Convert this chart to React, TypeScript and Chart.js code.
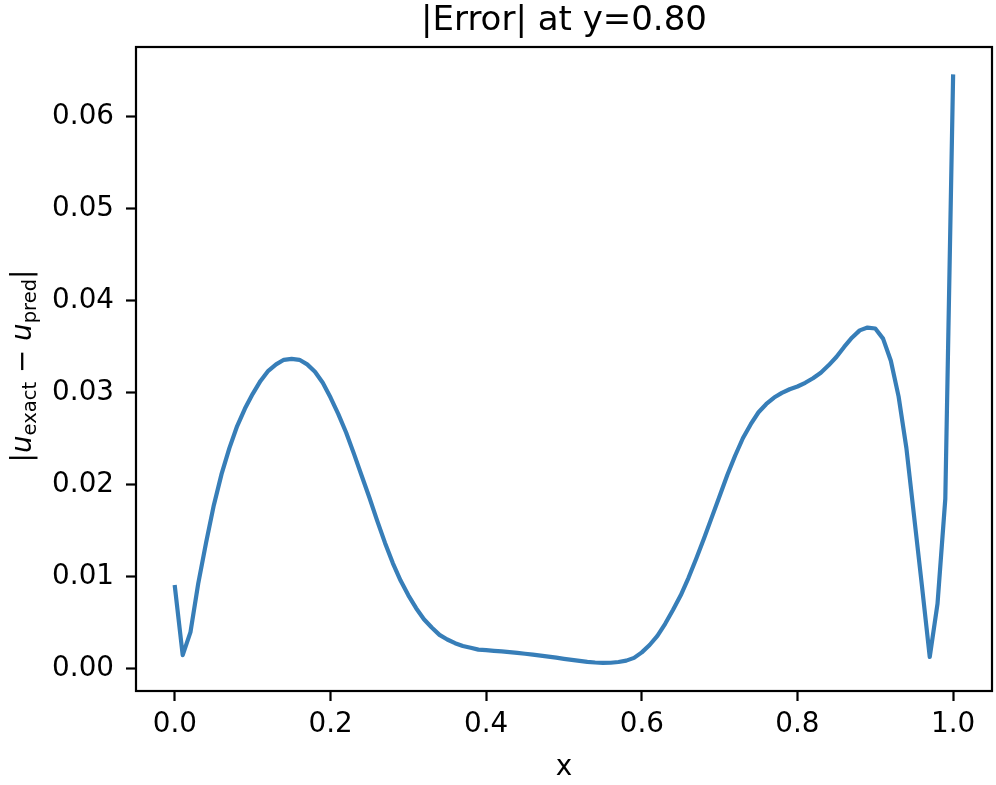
import React, { useEffect, useRef } from "react";
import { Chart, registerables } from "chart.js";

Chart.register(...registerables);

const X_VALUES = [
  0.0, 0.01, 0.02, 0.03, 0.04, 0.05, 0.06, 0.07, 0.08, 0.09,
  0.1, 0.11, 0.12, 0.13, 0.14, 0.15, 0.16, 0.17, 0.18, 0.19,
  0.2, 0.21, 0.22, 0.23, 0.24, 0.25, 0.26, 0.27, 0.28, 0.29,
  0.3, 0.31, 0.32, 0.33, 0.34, 0.35, 0.36, 0.37, 0.38, 0.39,
  0.4, 0.41, 0.42, 0.43, 0.44, 0.45, 0.46, 0.47, 0.48, 0.49,
  0.5, 0.51, 0.52, 0.53, 0.54, 0.55, 0.56, 0.57, 0.58, 0.59,
  0.6, 0.61, 0.62, 0.63, 0.64, 0.65, 0.66, 0.67, 0.68, 0.69,
  0.7, 0.71, 0.72, 0.73, 0.74, 0.75, 0.76, 0.77, 0.78, 0.79,
  0.8, 0.81, 0.82, 0.83, 0.84, 0.85, 0.86, 0.87, 0.88, 0.89,
  0.9, 0.91, 0.92, 0.93, 0.94, 0.95, 0.96, 0.97, 0.98, 0.99,
  1.0,
];

const ERROR_VALUES = [
  0.0089, 0.0015, 0.004, 0.0093, 0.0137, 0.0178, 0.0212, 0.024, 0.0264, 0.0283,
  0.0299, 0.0313, 0.0324, 0.0331, 0.0336, 0.0337, 0.0336, 0.0331, 0.0323, 0.0311,
  0.0295, 0.0277, 0.0257, 0.0234, 0.021, 0.0186, 0.0161, 0.0137, 0.0115, 0.0096,
  0.008, 0.0066, 0.0054, 0.0045, 0.0037, 0.0032, 0.0028, 0.0025, 0.0023, 0.0021,
  0.00205, 0.00197, 0.0019, 0.00182, 0.00174, 0.00165, 0.00155, 0.00145, 0.00134, 0.00122,
  0.0011, 0.00098, 0.00087, 0.00077, 0.0007, 0.00066, 0.00067, 0.00075, 0.0009, 0.0012,
  0.0018, 0.0026, 0.0036, 0.0049, 0.0064, 0.008, 0.0099, 0.012, 0.0142, 0.0165,
  0.0188, 0.0211, 0.0232, 0.0251, 0.0266, 0.0279, 0.0288, 0.0295, 0.03, 0.0304,
  0.0307, 0.0311, 0.0316, 0.0322, 0.033, 0.0339, 0.035, 0.036, 0.0368, 0.0371,
  0.037, 0.0359, 0.0335, 0.0296, 0.024, 0.0165, 0.009, 0.0013, 0.0071, 0.0185,
  0.0644,
];

const X_TICKS = [0.0, 0.2, 0.4, 0.6, 0.8, 1.0];
const Y_TICKS = [0.0, 0.01, 0.02, 0.03, 0.04, 0.05, 0.06];

const TITLE = "|Error| at y=0.80";
const X_LABEL = "x";

const FONT = "'DejaVu Sans', sans-serif";
const LINE_COLOR = "#377eb8";

const framePlugin = {
  id: "mplFrame",
  afterDraw(chart: any) {
    const { ctx, chartArea } = chart;
    const { left, right, top, bottom } = chartArea;
    ctx.save();
    // axes box
    ctx.strokeStyle = "#000";
    ctx.lineWidth = 2.2;
    ctx.strokeRect(left, top, right - left, bottom - top);

    // title
    ctx.fillStyle = "#000";
    ctx.font = `34px ${FONT}`;
    ctx.textAlign = "center";
    ctx.textBaseline = "alphabetic";
    ctx.fillText(TITLE, (left + right) / 2, 30);

    // y label: |u_exact − u_pred|
    const big = 27.8;
    const small = 19.5;
    const parts: { t: string; f: string; dy: number }[] = [
      { t: "|", f: `${big}px ${FONT}`, dy: 0 },
      { t: "u", f: `italic ${big}px ${FONT}`, dy: 0 },
      { t: "exact", f: `${small}px ${FONT}`, dy: 5 },
      { t: " \u2212 ", f: `${big}px ${FONT}`, dy: 0 },
      { t: "u", f: `italic ${big}px ${FONT}`, dy: 0 },
      { t: "pred", f: `${small}px ${FONT}`, dy: 5 },
      { t: "|", f: `${big}px ${FONT}`, dy: 0 },
    ];
    let total = 0;
    const widths = parts.map((p) => {
      ctx.font = p.f;
      const w = ctx.measureText(p.t).width;
      total += w;
      return w;
    });
    ctx.translate(31, (top + bottom) / 2 - 3);
    ctx.rotate(-Math.PI / 2);
    ctx.textAlign = "left";
    let x = -total / 2;
    parts.forEach((p, i) => {
      ctx.font = p.f;
      ctx.fillText(p.t, x, p.dy);
      x += widths[i];
    });
    ctx.restore();
  },
};

export default function App() {
  const canvasRef = useRef<HTMLCanvasElement | null>(null);

  useEffect(() => {
    const canvas = canvasRef.current;
    if (!canvas) return;
    const points = X_VALUES.map((x, i) => ({ x, y: ERROR_VALUES[i] }));
    const chart = new Chart(canvas, {
      type: "line",
      data: {
        datasets: [
          {
            data: points,
            borderColor: LINE_COLOR,
            backgroundColor: LINE_COLOR,
            borderWidth: 4.2,
            pointRadius: 0,
            tension: 0,
            fill: false,
            borderJoinStyle: "round",
            borderCapStyle: "square",
          },
        ],
      },
      options: {
        responsive: false,
        maintainAspectRatio: false,
        animation: false,
        devicePixelRatio: 1,
        layout: { padding: { left: 0, right: 4, top: 47, bottom: 0 } },
        plugins: {
          legend: { display: false },
          tooltip: { enabled: false },
          title: { display: false },
        },
        scales: {
          x: {
            type: "linear",
            min: -0.05,
            max: 1.05,
            afterBuildTicks: (scale: any) => {
              scale.ticks = X_TICKS.map((v) => ({ value: v }));
            },
            afterFit: (scale: any) => {
              scale.height = 94;
            },
            grid: {
              drawOnChartArea: false,
              drawTicks: true,
              tickLength: 10,
              tickColor: "#000",
              tickWidth: 2.2,
            },
            border: { display: false },
            ticks: {
              color: "#000",
              padding: 7,
              maxRotation: 0,
              font: { family: FONT, size: 27.8 },
              callback: (v: any) => Number(v).toFixed(1),
            },
            title: {
              display: true,
              text: X_LABEL,
              color: "#000",
              font: { family: FONT, size: 27.8 },
              padding: { top: 0, bottom: 1 },
            },
          },
          y: {
            type: "linear",
            min: -0.0024,
            max: 0.0676,
            afterBuildTicks: (scale: any) => {
              scale.ticks = Y_TICKS.map((v) => ({ value: v }));
            },
            afterFit: (scale: any) => {
              scale.width = 136;
            },
            grid: {
              drawOnChartArea: false,
              drawTicks: true,
              tickLength: 10,
              tickColor: "#000",
              tickWidth: 2.2,
            },
            border: { display: false },
            ticks: {
              color: "#000",
              padding: 12,
              font: { family: FONT, size: 27.8 },
              callback: (v: any) => Number(v).toFixed(2),
            },
          },
        },
      },
      plugins: [framePlugin],
    });
    return () => chart.destroy();
  }, []);

  return (
    <canvas
      ref={canvasRef}
      width={996}
      height={785}
      style={{ position: "absolute", left: 0, top: 0, width: 996, height: 785 }}
    />
  );
}
